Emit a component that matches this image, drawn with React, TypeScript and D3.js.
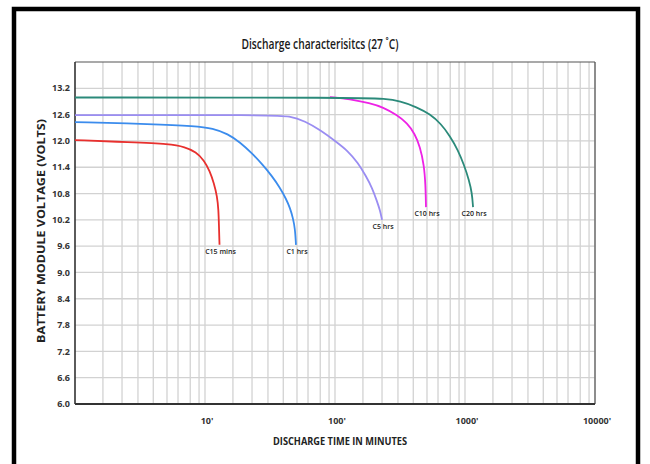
import React from "react";
import * as d3 from "d3";

// ---- data ----
const yTicks = [6.0, 6.6, 7.2, 7.8, 8.4, 9.0, 9.6, 10.2, 10.8, 11.4, 12.0, 12.6, 13.2];
const yTop = 13.8;
const xMajorTicks = [10, 100, 1000, 10000];
const xTickLabels = ["10'", "100'", "1000'", "10000'"];
const decadeStarts = [1, 10, 100, 1000];
const minorMultipliers = [1.64, 2.3, 3.05, 4, 5.1, 6.2, 7.7, 9];

const c15Time = [1, 2.65, 5.38, 7.02, 8.53, 9.83, 10.9, 11.7, 12.4, 12.7, 12.8, 12.93];
const c15Volts = [12.02, 11.97, 11.93, 11.86, 11.75, 11.56, 11.31, 11.04, 10.74, 10.42, 10.08, 9.63];

const c1Time = [1, 3.98, 8.38, 11.52, 15.0, 18.6, 23.0, 27.9, 32.7, 37.8, 42.0, 45.1, 47.5, 49.2, 50.1];
const c1Volts = [12.43, 12.385, 12.34, 12.29, 12.16, 11.97, 11.72, 11.45, 11.2, 10.93, 10.68, 10.47, 10.24, 10.01, 9.63];

const c5Time = [1, 31.6, 45.1, 58.8, 76.7, 100, 126, 150, 173, 193, 210, 222, 230];
const c5Volts = [12.59, 12.59, 12.57, 12.45, 12.25, 12.0, 11.77, 11.5, 11.2, 10.93, 10.63, 10.42, 10.2];

const c10Time = [91.5, 130, 186, 234, 300, 358, 412, 451, 484, 497, 501];
const c10Volts = [13.0, 12.96, 12.86, 12.77, 12.59, 12.41, 12.16, 11.86, 11.45, 10.99, 10.49];

const c20Time = [1, 156, 243, 316, 427, 538, 654, 767, 884, 983, 1074, 1132, 1153];
const c20Volts = [12.99, 12.99, 12.96, 12.91, 12.77, 12.61, 12.39, 12.11, 11.79, 11.45, 11.11, 10.81, 10.49];

const seriesLabels = ["C15 mins", "C1 hrs", "C5 hrs", "C10 hrs", "C20 hrs"];
const seriesTimes = [c15Time, c1Time, c5Time, c10Time, c20Time];
const seriesVolts = [c15Volts, c1Volts, c5Volts, c10Volts, c20Volts];
const seriesColors = ["#e8302e", "#3b8ced", "#9a8df2", "#ee22e6", "#2b8a7a"];

const W = 650;
const H = 464;
const M = { left: 75, right: 595, top: 62, bottom: 404 };
const FONT = "'Open Sans', 'DejaVu Sans', sans-serif";

export default function App() {
  const x = d3.scaleLog().domain([1, 10000]).range([M.left, M.right]);
  const y = d3.scaleLinear().domain([6.0, yTop]).range([M.bottom, M.top]);

  const minorTicks: number[] = [];
  decadeStarts.forEach((d) => minorMultipliers.forEach((m) => minorTicks.push(d * m)));

  const line = d3
    .line<[number, number]>()
    .x((d) => x(d[0]))
    .y((d) => y(d[1]))
    .curve(d3.curveBasis);

  return (
    <div style={{ position: "absolute", left: 0, top: 0 }}>
      <svg width={W} height={H} style={{ display: "block", background: "#fff" }}>
        {/* outer frame */}
        <rect x={14} y={9} width={624} height={500} fill="none" stroke="#000" strokeWidth={4.5} />

        {/* title */}
        <text
          x={320}
          y={49}
          textAnchor="middle"
          fontFamily={FONT}
          fontSize={15}
          fontWeight={600}
          fill="#1a1a1a"
          textLength={157}
          lengthAdjust="spacingAndGlyphs"
        >
          Discharge characterisitcs (27 ˚C)
        </text>

        {/* horizontal grid */}
        {yTicks.map((v) => (
          <line key={"h" + v} x1={M.left} x2={M.right} y1={y(v)} y2={y(v)} stroke="#d2d2d2" strokeWidth={1.3} />
        ))}
        {/* vertical grid */}
        {minorTicks.concat(xMajorTicks).map((v, i) => (
          <line key={"v" + i} x1={x(v)} x2={x(v)} y1={M.top} y2={M.bottom} stroke="#d2d2d2" strokeWidth={1.3} />
        ))}

        {/* plot frame */}
        <line x1={M.left} x2={M.right} y1={M.top} y2={M.top} stroke="#555" strokeWidth={1.2} />
        <line x1={M.right} x2={M.right} y1={M.top} y2={M.bottom} stroke="#555" strokeWidth={1.2} />
        <line x1={M.left} x2={M.left} y1={M.top} y2={M.bottom} stroke="#333" strokeWidth={1.6} />
        <line x1={M.left} x2={M.right} y1={M.bottom} y2={M.bottom} stroke="#333" strokeWidth={1.8} />

        {/* curves */}
        {seriesTimes.map((ts, i) => {
          const pts = ts.map((t, j) => [t, seriesVolts[i][j]] as [number, number]);
          return (
            <path key={"s" + i} d={line(pts) || ""} fill="none" stroke={seriesColors[i]} strokeWidth={1.8} />
          );
        })}

        {/* curve labels */}
        {seriesTimes.map((ts, i) => {
          const t = ts[ts.length - 1];
          const v = seriesVolts[i][seriesVolts[i].length - 1];
          return (
            <text
              key={"l" + i}
              x={x(t) + 1}
              y={y(v) + 9}
              textAnchor="middle"
              fontFamily={FONT}
              fontSize={7}
              fontWeight={600}
              fill="#222"
            >
              {seriesLabels[i]}
            </text>
          );
        })}

        {/* y tick labels */}
        {yTicks.map((v) => (
          <text
            key={"yt" + v}
            x={70}
            y={y(v)}
            dy="0.35em"
            textAnchor="end"
            fontFamily={FONT}
            fontSize={9}
            fontWeight="bold"
            fill="#333"
          >
            {v.toFixed(1)}
          </text>
        ))}

        {/* x tick labels */}
        {xMajorTicks.map((v, i) => (
          <text
            key={"xt" + v}
            x={x(v) + 2}
            y={424}
            textAnchor="middle"
            fontFamily={FONT}
            fontSize={9}
            fontWeight="bold"
            fill="#333"
          >
            {xTickLabels[i]}
          </text>
        ))}

        {/* axis titles */}
        <text
          x={340}
          y={445}
          textAnchor="middle"
          fontFamily={FONT}
          fontSize={11}
          fontWeight="bold"
          fill="#222"
          textLength={134}
          lengthAdjust="spacingAndGlyphs"
        >
          DISCHARGE TIME IN MINUTES
        </text>
        <text
          transform="translate(45,231) rotate(-90)"
          textAnchor="middle"
          fontFamily={FONT}
          fontSize={11}
          fontWeight="bold"
          fill="#222"
          textLength={224}
          lengthAdjust="spacingAndGlyphs"
        >
          BATTERY MODULE VOLTAGE (VOLTS)
        </text>
      </svg>
    </div>
  );
}
